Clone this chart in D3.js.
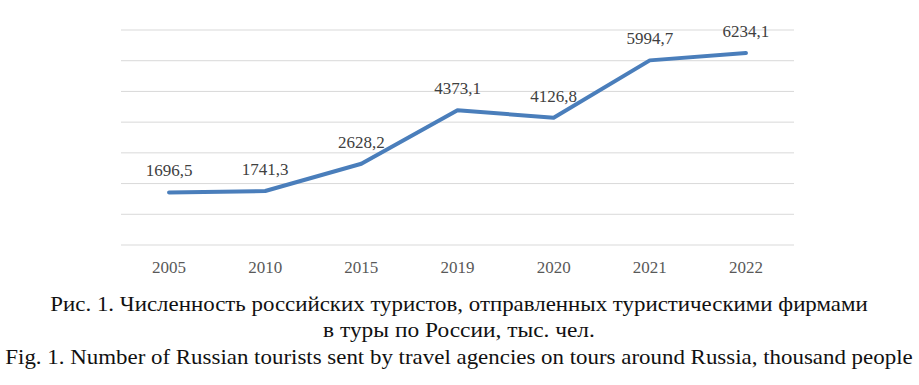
<!DOCTYPE html>
<html>
<head>
<meta charset="utf-8">
<script src="https://cdn.jsdelivr.net/npm/d3@7"></script>
</head>
<body style="margin:0">
<svg id="chart" width="919" height="385"></svg>
<script>
const years = ['2005', '2010', '2015', '2019', '2020', '2021', '2022'];
const tourists = [1696.5, 1741.3, 2628.2, 4373.1, 4126.8, 5994.7, 6234.1];
const yTicks = [0, 1000, 2000, 3000, 4000, 5000, 6000, 7000];
const captionLines = [
    'Рис. 1. Численность российских туристов, отправленных туристическими фирмами',
    'в туры по России, тыс. чел.',
    'Fig. 1. Number of Russian tourists sent by travel agencies on tours around Russia, thousand people'
];

const FONT = 'Liberation Serif, serif';

function drawChart() {
    const W = 919, H = 385;
    const margin = { top: 29.5, left: 121, right: 125, bottom: 140.5 };
    const width = W - margin.left - margin.right;
    const height = H - margin.top - margin.bottom;

    const svg = d3.select('#chart');

    const g = svg.append('g')
        .attr('transform', `translate(${margin.left},${margin.top})`);

    // scales
    const xScale = d3.scaleBand()
        .domain(years)
        .range([0, width]);

    const yScale = d3.scaleLinear()
        .domain([0, 7000])
        .range([height, 0]);

    // gridlines
    g.append('g')
        .call(d3.axisLeft(yScale).tickValues(yTicks).tickSize(-width).tickFormat(''))
        .call(a => a.select('.domain').remove())
        .call(a => a.selectAll('line').attr('stroke', '#d9d9d9').attr('stroke-width', 1));

    // x-axis labels
    g.append('g')
        .attr('transform', `translate(0,${height})`)
        .call(d3.axisBottom(xScale).tickSize(0).tickPadding(16))
        .attr('font-family', FONT)
        .attr('font-size', 17)
        .call(a => a.select('.domain').remove())
        .call(a => a.selectAll('text')
            .attr('fill', '#595959')
            .style('font-size', '17px')
            .style('font-family', FONT));

    const data = years.map((y, i) => ({ year: y, value: tourists[i] }));

    // line
    const line = d3.line()
        .x(d => xScale(d.year) + xScale.bandwidth() / 2)
        .y(d => yScale(d.value));

    g.append('path')
        .datum(data)
        .attr('fill', 'none')
        .attr('stroke', '#4a7ebb')
        .attr('stroke-width', 4)
        .attr('stroke-linejoin', 'round')
        .attr('stroke-linecap', 'round')
        .attr('d', line);

    // value labels
    g.selectAll('.val')
        .data(data)
        .enter()
        .append('text')
        .attr('class', 'val')
        .attr('x', d => xScale(d.year) + xScale.bandwidth() / 2)
        .attr('y', d => yScale(d.value) - 16)
        .attr('text-anchor', 'middle')
        .attr('fill', '#404040')
        .style('font-family', FONT)
        .style('font-size', '17px')
        .text(d => d3.format('.1f')(d.value).replace('.', ','));

    // caption, squeezed horizontally like the original
    const capY = [311, 337, 364];
    const capLen = [818, 272, 908];
    svg.selectAll('.cap')
        .data(captionLines)
        .enter()
        .append('text')
        .attr('class', 'cap')
        .attr('x', 0)
        .attr('y', 0)
        .attr('text-anchor', 'middle')
        .attr('fill', '#111')
        .style('font-family', FONT)
        .style('font-size', '22px')
        .text(d => d)
        .attr('transform', function(d, i) {
            const k = capLen[i] / this.getComputedTextLength();
            return `translate(${W / 2 - 0.5},${capY[i]}) scale(${k},1)`;
        });
}

drawChart();
</script>
</body>
</html>
